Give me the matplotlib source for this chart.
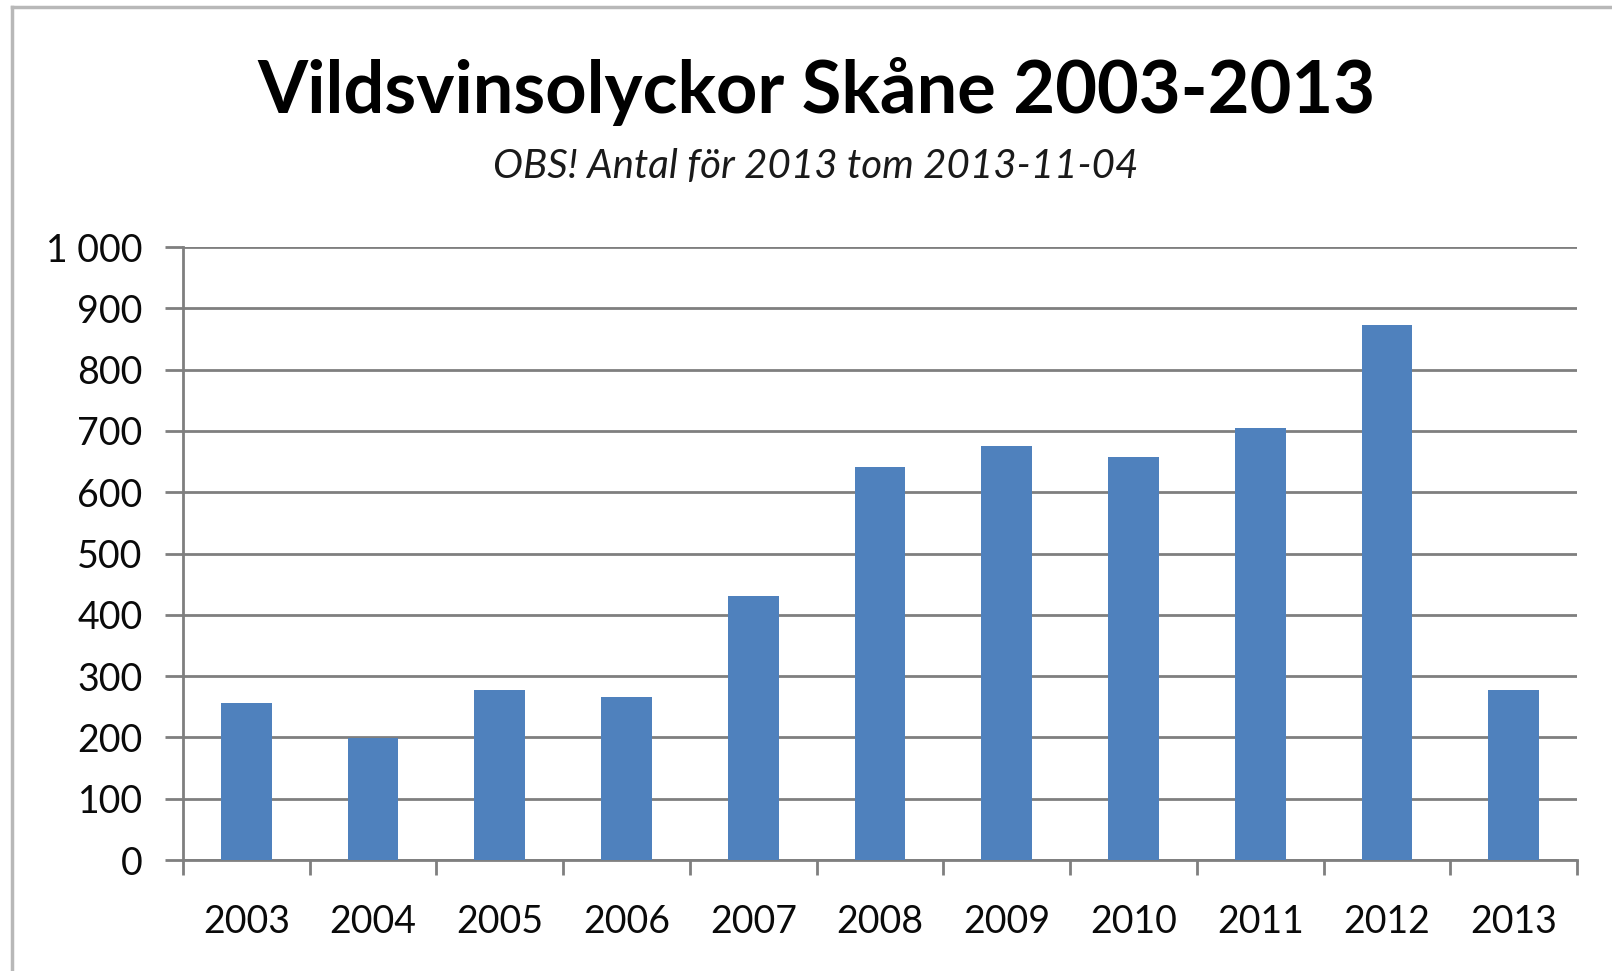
import matplotlib
matplotlib.use("Agg")
import matplotlib.pyplot as plt
from matplotlib.lines import Line2D
from matplotlib.ticker import FuncFormatter, FixedLocator

# data
years = ["2003", "2004", "2005", "2006", "2007", "2008",
         "2009", "2010", "2011", "2012", "2013"]
olyckor = [256, 199, 278, 266, 430, 641, 676, 658, 704, 873, 278]
y_ticks = [0, 100, 200, 300, 400, 500, 600, 700, 800, 900, 1000]

title = "Vildsvinsolyckor Skåne 2003-2013"
subtitle = "OBS! Antal för 2013 tom 2013-11-04"

W, H = 1612, 971
bar_col = "#4F81BD"
grid_col = "#7f7f7f"

plt.rcParams['font.family'] = ['Lato', 'DejaVu Sans']

fig = plt.figure(figsize=(W / 100, H / 100), dpi=100)
ax = fig.add_axes([183 / W, 111 / H, (1577 - 183) / W, (860 - 247) / H])

x = list(range(len(years)))
ax.bar(x, olyckor, width=0.4, color=bar_col, zorder=3)

ax.set_xlim(-0.5, len(years) - 0.5)
ax.set_ylim(0, 1000)

# y axis : gridlines + ticks sticking out to the left
ax.yaxis.set_major_locator(FixedLocator(y_ticks))
ax.yaxis.set_major_formatter(FuncFormatter(lambda v, p: f"{int(v):,}".replace(",", " ")))
ax.grid(axis='y', color=grid_col, linewidth=2.0, zorder=0)
ax.tick_params(axis='y', length=13, width=2.0, color=grid_col, pad=16,
               labelsize=27, labelcolor="#0a0a0a")

# x axis : labels in the middle, tick marks between categories
ax.set_xticks(x)
ax.set_xticklabels(years)
ax.set_xticks([i - 0.5 for i in range(len(years) + 1)], minor=True)
ax.tick_params(axis='x', which='major', length=0, pad=32,
               labelsize=27, labelcolor="#0a0a0a")
ax.tick_params(axis='x', which='minor', length=11, width=2.0, color=grid_col)

for s in ['top', 'right']:
    ax.spines[s].set_visible(False)
for s in ['left', 'bottom']:
    ax.spines[s].set_color(grid_col)
    ax.spines[s].set_linewidth(2.0)

# titles
fig.text(816 / W, 1 - 92 / H, title, ha='center', va='center',
         fontsize=52, fontweight='bold', color="#000000")
fig.text(816 / W, 1 - 167 / H, subtitle, ha='center', va='center',
         fontsize=29, fontstyle='italic', color="#1a1a1a")

# outer chart frame (only left and top visible in the picture)
fig.add_artist(Line2D([12 / W, 12 / W], [0, 1 - 7 / H], transform=fig.transFigure,
                      color="#b8b8b8", linewidth=2.5))
fig.add_artist(Line2D([12 / W, 1], [1 - 7 / H, 1 - 7 / H], transform=fig.transFigure,
                      color="#b8b8b8", linewidth=2.5))

fig.savefig("out.png", dpi=100)
